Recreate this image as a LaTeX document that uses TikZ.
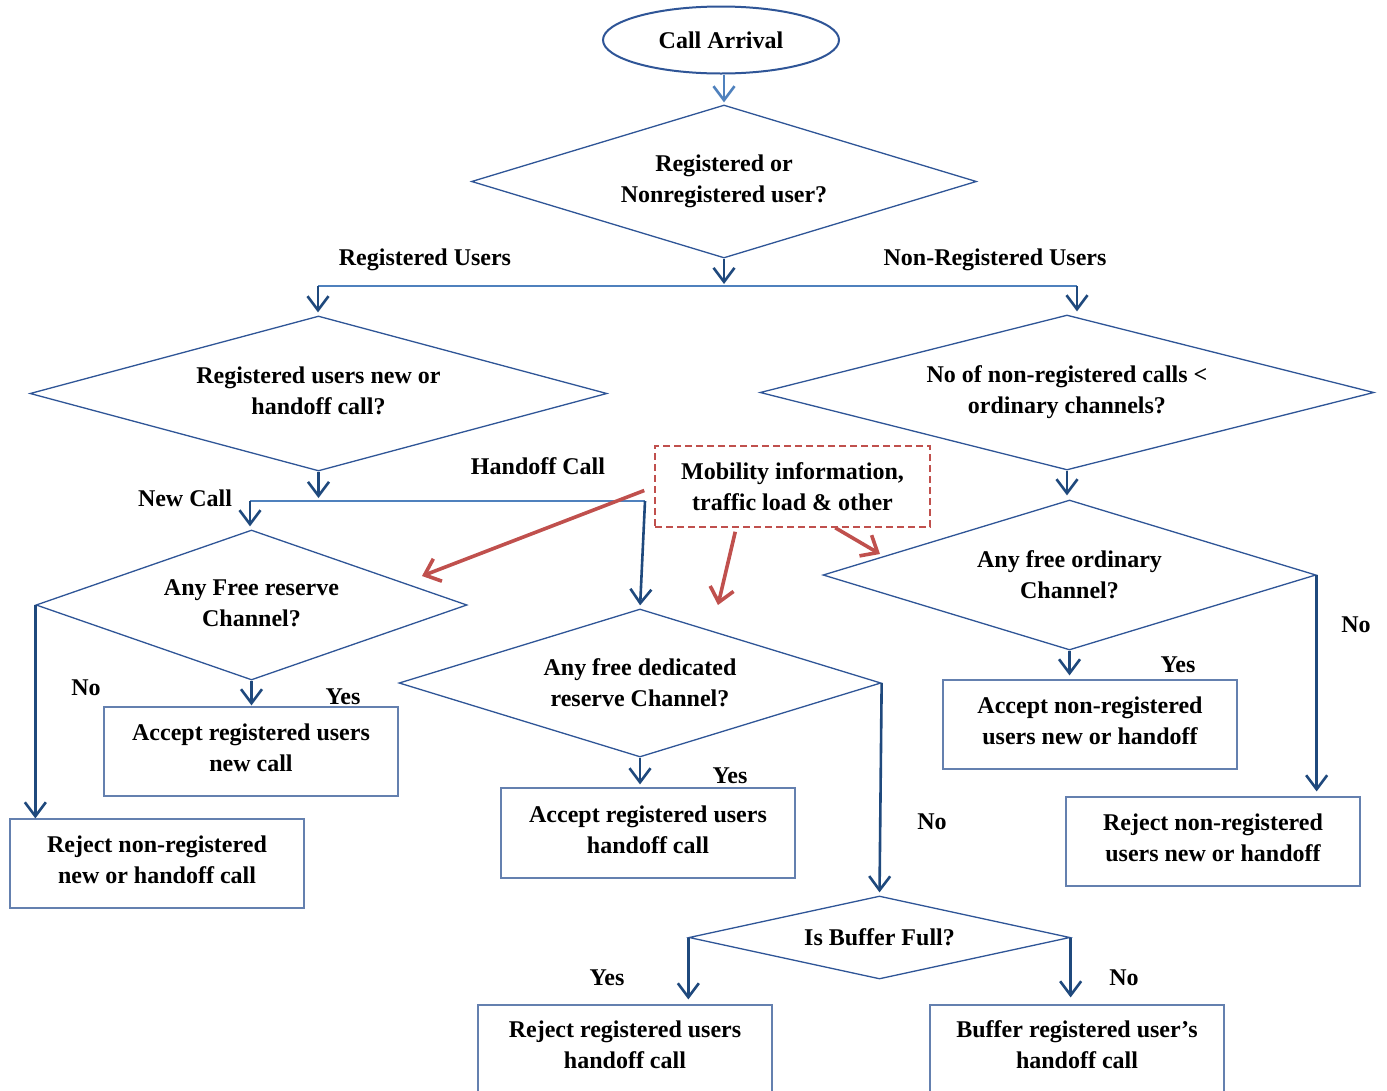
\documentclass[tikz,border=0pt]{standalone}
\usepackage{fontspec}
\setmainfont{Liberation Serif}
\usetikzlibrary{shapes.geometric,arrows.meta,calc}
\definecolor{diablue}{RGB}{47,85,151}
\definecolor{arrblue}{RGB}{31,73,125}
\definecolor{lightblue}{RGB}{79,129,189}
\definecolor{boxblue}{RGB}{100,128,175}
\definecolor{redc}{RGB}{192,80,77}
\begin{document}
\begin{tikzpicture}[x=1pt,y=-1pt,
  every node/.style={font=\fontsize{24}{31}\selectfont\bfseries, align=center, inner sep=0pt, text=black},
  dia/.style={diamond, draw=diablue, line width=1.3pt},
  box/.style={rectangle, draw=boxblue, line width=1.2pt, minimum width=294pt, text depth=7pt},
  lbl/.style={anchor=base},
  arr/.style={draw=arrblue, line width=2.6pt, -{Straight Barb[length=14pt,width=21pt]}},
  conn/.style={draw=lightblue, line width=2pt},
  redarr/.style={draw=redc, line width=3.6pt, -{Straight Barb[length=14pt,width=24pt]}},
]
\clip (0,0) rectangle (1387,1090);
\fill[white] (0,0) rectangle (1387,1090);

% start
\node[ellipse, draw=diablue, line width=2pt, minimum width=236pt, minimum height=67pt] (start) at (721,40) {Call Arrival};

% diamonds
\node[dia, aspect=3.3, minimum width=505pt, minimum height=153pt] (d1) at (724,181.5) {Registered or\\Nonregistered user?};
\node[dia, aspect=3.72, minimum width=577pt, minimum height=155pt, text depth=6pt] (d2) at (318.5,393.5) {Registered users new or\\handoff call?};
\node[dia, aspect=3.96, minimum width=614pt, minimum height=155pt] (d3) at (1067,392.5) {No of non-registered calls <\\ordinary channels?};
\node[dia, aspect=2.87, minimum width=431pt, minimum height=150pt, text depth=4pt] (d4) at (251.5,605) {Any Free reserve\\Channel?};
\node[dia, aspect=3.26, minimum width=482pt, minimum height=148pt] (d5) at (640,683) {Any free dedicated\\reserve Channel?};
\node[dia, aspect=4.59, minimum width=381pt, minimum height=83pt] (d6) at (879.5,937.5) {Is Buffer Full?};
\node[dia, aspect=3.29, minimum width=493pt, minimum height=150pt] (d7) at (1069.5,575) {Any free ordinary\\Channel?};

% boxes
\node[box, minimum height=89pt] (b1) at (251,751.5) {Accept registered users\\new call};
\node[box, minimum height=89pt] (b2) at (157,863.5) {Reject non-registered\\new or handoff call};
\node[box, minimum height=90pt] (b3) at (648,833) {Accept registered users\\handoff call};
\node[box, minimum height=90pt, text depth=10pt] (b4) at (625,1050) {Reject registered users\\handoff call};
\node[box, minimum height=90pt, text depth=10pt] (b5) at (1077,1050) {Buffer registered user’s\\handoff call};
\node[box, minimum height=89pt] (b6) at (1090,724.5) {Accept non-registered\\users new or handoff};
\node[box, minimum height=89pt] (b7) at (1213,841.5) {Reject non-registered\\users new or handoff};

% mobility box
\node[rectangle, draw=redc, line width=1.5pt, dash pattern=on 7pt off 4pt, minimum width=275pt, minimum height=81pt] (mob) at (792.5,486.5) {Mobility information,\\traffic load \& other};

% labels
\node[lbl] (lRU) at (425,265) {Registered Users};
\node[lbl] (lNRU) at (995,265) {Non-Registered Users};
\node[lbl] (lNC) at (185,506) {New Call};
\node[lbl] (lHC) at (538,474) {Handoff Call};
\node[lbl] (lNo1) at (86,695) {No};
\node[lbl] (lYes1) at (343,704) {Yes};
\node[lbl] (lYes2) at (730,783) {Yes};
\node[lbl] (lNo2) at (932,829) {No};
\node[lbl] (lYes3) at (607,985) {Yes};
\node[lbl] (lNo3) at (1124,985) {No};
\node[lbl] (lYes4) at (1178,672) {Yes};
\node[lbl] (lNo4) at (1356,632) {No};

% connectors
\draw[arr, draw=lightblue, shorten >=2pt] (start.south -| d1.north) -- (d1.north);
\coordinate (sL) at (318,286);
\coordinate (sR) at (1077,286);
\draw[arr, shorten >=2pt] (d1.south) -- (d1.south |- sL);
\draw[conn] (sL) -- (sR);
\draw[arr, shorten >=3pt] (sL) -- (sL |- d2.north);
\draw[arr, shorten >=3pt] (sR) -- (sR |- d3.north);

\coordinate (nL) at (250,501);
\coordinate (nR) at (645,501);
\draw[arr, shorten >=3pt] (d2.south) -- (d2.south |- nL);
\draw[conn] (nL) -- (nR);
\draw[arr, shorten >=3pt] (nL) -- (nL |- d4.north);
\draw[arr, shorten >=3pt] (nR) -- (d5.north);

\draw[arr] (d4.west) -- (d4.west |- b2.north);
\draw[arr, shorten >=1pt] (d4.south) -- (d4.south |- b1.north);
\draw[arr, shorten >=3pt] (d5.south) -- (d5.south |- b3.north);
\draw[arr, shorten >=3pt] (d5.east) -- (d6.north);
\draw[arr, shorten >=5pt] (d6.west) -- (d6.west |- b4.north);
\draw[arr, shorten >=7pt] (d6.east) -- (d6.east |- b5.north);
\draw[arr, shorten >=4pt] (d3.south) -- (d3.south |- d7.north);
\draw[arr, shorten >=4pt] (d7.south) -- (d7.south |- b6.north);
\draw[arr, shorten >=5pt] (d7.east) -- (d7.east |- b7.north);

% red arrows
\coordinate (r1) at (422,576);
\coordinate (r2) at (718,605);
\coordinate (r3) at (880,554);
\draw[redarr] ($(mob.west)+(-10,4)$) -- (r1);
\draw[redarr] ($(mob.south west)+(81,4)$) -- (r2);
\draw[redarr] ($(mob.south west)+(181,0)$) -- (r3);
\end{tikzpicture}
\end{document}
